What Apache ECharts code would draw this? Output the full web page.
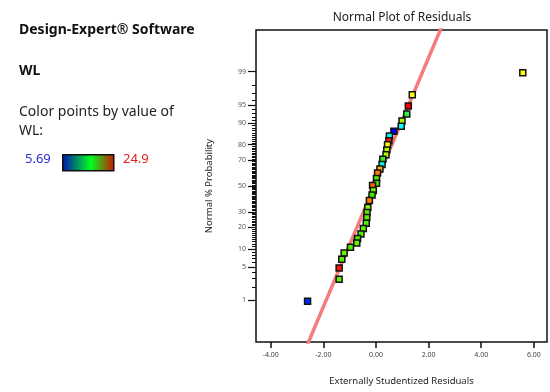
<!DOCTYPE html>
<html>
<head>
<meta charset="utf-8">
<script src="https://cdn.jsdelivr.net/npm/echarts@6/dist/echarts.min.js"></script>
<style>
html,body{margin:0;padding:0;background:#fff;}
#chart{width:550px;height:392px;}
</style>
</head>
<body>
<div id="chart"></div>
<script>
// ---- data ----
const residuals = [5.58, 1.38, 1.23, 1.17, 0.99, 0.96, 0.68, 0.51, 0.49, 0.44, 0.41, 0.38,
  0.26, 0.23, 0.15, 0.06, 0.02, 0.02, -0.13, -0.10, -0.15, -0.25, -0.31, -0.34, -0.35,
  -0.37, -0.48, -0.57, -0.70, -0.73, -0.97, -1.21, -1.30, -1.40, -1.40, -2.60];
const probabilities = [98.93, 96.8, 94.8, 92.8, 90.7, 88.8, 86.7, 84.5, 82.1, 79.9, 76.7, 73.7,
  70.6, 66.9, 63.5, 60.4, 56.0, 52.3, 50.4, 46.4, 42.7, 38.4, 33.1, 29.5, 26.1,
  22.5, 19.4, 16.5, 14.3, 12.3, 10.7, 8.7, 6.8, 4.8, 2.9, 0.96];
const wlValues = [20.1, 20.1, 24.9, 14.0, 18.0, 10.5, 5.69, 10.5, 24.5, 20.0, 18.0, 18.5,
  15.0, 11.0, 21.5, 22.5, 16.0, 15.5, 23.0, 17.0, 15.5, 22.5, 17.5, 16.0, 16.0,
  15.8, 16.2, 16.0, 15.8, 16.3, 15.8, 16.5, 16.0, 24.5, 16.3, 6.5];
const fitResiduals = [-2.66, 2.54];
const fitProbabilities = [0.05, 99.95];
const wlMin = 5.69, wlMax = 24.9;
const xTicks = [-4, -2, 0, 2, 4, 6];
const yMajorTicks = [1, 5, 10, 20, 30, 50, 70, 80, 90, 95, 99];
const yMinorTicks = Array.from({length: 99}, (_, i) => i + 1);

// ---- normal probability scale ----
function invNorm(p) {
  const a=[-3.969683028665376e+01,2.209460984245205e+02,-2.759285104469687e+02,1.383577518672690e+02,-3.066479806614716e+01,2.506628277459239e+00];
  const b=[-5.447609879822406e+01,1.615858368580409e+02,-1.556989798598866e+02,6.680131188771972e+01,-1.328068155288572e+01];
  const c=[-7.784894002430293e-03,-3.223964580411365e-01,-2.400758277161838e+00,-2.549732539343734e+00,4.374664141464968e+00,2.938163982698783e+00];
  const d=[7.784695709041462e-03,3.224671290700398e-01,2.445134137142996e+00,3.754408661907416e+00];
  const pl=0.02425, ph=1-pl; let q,r;
  if(p<pl){q=Math.sqrt(-2*Math.log(p));return (((((c[0]*q+c[1])*q+c[2])*q+c[3])*q+c[4])*q+c[5])/((((d[0]*q+d[1])*q+d[2])*q+d[3])*q+1);}
  if(p<=ph){q=p-0.5;r=q*q;return (((((a[0]*r+a[1])*r+a[2])*r+a[3])*r+a[4])*r+a[5])*q/(((((b[0]*r+b[1])*r+b[2])*r+b[3])*r+b[4])*r+1);}
  q=Math.sqrt(-2*Math.log(1-p));return -(((((c[0]*q+c[1])*q+c[2])*q+c[3])*q+c[4])*q+c[5])/((((d[0]*q+d[1])*q+d[2])*q+d[3])*q+1);
}
const zOf = pct => invNorm(pct / 100);
const majorZ = yMajorTicks.map(zOf);
const minorZ = yMinorTicks.map(zOf);
function labelFor(z) {
  let best = 0, bd = Infinity;
  majorZ.forEach((v, i) => { const dd = Math.abs(v - z); if (dd < bd) { bd = dd; best = i; } });
  return String(yMajorTicks[best]);
}

const scatterData = residuals.map((r, i) => [r, zOf(probabilities[i]), wlValues[i]]);
const fitData = fitResiduals.map((r, i) => [r, zOf(fitProbabilities[i])]);

const FONT = '"Noto Sans", "DejaVu Sans", sans-serif';
const Y_MIN = -3.17, Y_MAX = 3.17;

const chart = echarts.init(document.getElementById('chart'), null, {renderer: 'canvas'});
chart.setOption({
  animation: false,
  backgroundColor: '#ffffff',
  textStyle: {fontFamily: FONT},
  grid: {left: 256, right: 3, top: 30, bottom: 50, show: true, borderColor: '#111', borderWidth: 1.5, backgroundColor: 'transparent'},
  xAxis: {
    type: 'value', min: -4.56, max: 6.5, position: 'bottom',
    axisLine: {show: false, onZero: false},
    splitLine: {show: false},
    axisTick: {show: true, length: 6, customValues: xTicks, lineStyle: {color: '#111', width: 1.5}},
    axisLabel: {customValues: xTicks, formatter: v => v.toFixed(2), fontSize: 7, color: '#444', margin: 9, fontFamily: FONT},
    name: 'Externally Studentized Residuals', nameLocation: 'middle', nameGap: 34,
    nameTextStyle: {fontSize: 9.5, color: '#222', fontFamily: FONT}
  },
  yAxis: [{
    type: 'value', min: Y_MIN, max: Y_MAX, position: 'left',
    axisLine: {show: false, onZero: false}, splitLine: {show: false},
    axisTick: {show: true, length: 8, customValues: majorZ, lineStyle: {color: '#111', width: 1.2}},
    axisLabel: {customValues: majorZ, formatter: v => labelFor(v), fontSize: 7, color: '#555', margin: 10, fontFamily: FONT},
    name: 'Normal % Probability', nameLocation: 'middle', nameGap: 42,
    nameTextStyle: {fontSize: 9.5, color: '#222', fontFamily: FONT}
  }, {
    type: 'value', min: Y_MIN, max: Y_MAX, position: 'left',
    axisLine: {show: false, onZero: false}, splitLine: {show: false},
    axisTick: {show: true, length: 4, customValues: minorZ, lineStyle: {color: '#111', width: 1}},
    axisLabel: {show: false}
  }],
  visualMap: {
    show: false, type: 'continuous', min: wlMin, max: wlMax, dimension: 2, seriesIndex: 1,
    inRange: {color: ['#0000ff', '#00ffff', '#33ee00', '#ffff00', '#ff0000']}
  },
  series: [{
    type: 'line', data: fitData, showSymbol: false, symbol: 'none', clip: true,
    lineStyle: {color: '#f47c7c', width: 3.5}, z: 1, silent: true
  }, {
    type: 'scatter', data: scatterData, symbol: 'rect', symbolSize: 6,
    itemStyle: {borderColor: '#111', borderWidth: 1.5, opacity: 1}, z: 3
  }],
  graphic: [
    {type: 'text', x: 402, y: 12, style: {text: 'Normal Plot of Residuals', font: '12px ' + FONT, fill: '#222', textAlign: 'center'}},
    {type: 'text', left: 19, top: 23, style: {text: 'Design-Expert® Software', font: 'bold 14px ' + FONT, fill: '#111'}},
    {type: 'text', left: 19, top: 64, style: {text: 'WL', font: 'bold 14px ' + FONT, fill: '#111'}},
    {type: 'text', left: 19, top: 105, style: {text: 'Color points by value of', font: '14px ' + FONT, fill: '#222'}},
    {type: 'text', left: 19, top: 124, style: {text: 'WL:', font: '14px ' + FONT, fill: '#222'}},
    {type: 'text', left: 25, top: 153, style: {text: '5.69', font: '13px ' + FONT, fill: '#2a2ad8'}},
    {type: 'rect', left: 62, top: 154, shape: {width: 51, height: 16},
      style: {fill: new echarts.graphic.LinearGradient(0, 0, 1, 0, [
        {offset: 0, color: '#0010b0'}, {offset: 0.55, color: '#00ff20'}, {offset: 1, color: '#d01000'}]),
        stroke: '#111', lineWidth: 1.5}},
    {type: 'text', left: 123, top: 153, style: {text: '24.9', font: '13px ' + FONT, fill: '#e02020'}}
  ]
});
</script>
</body>
</html>
